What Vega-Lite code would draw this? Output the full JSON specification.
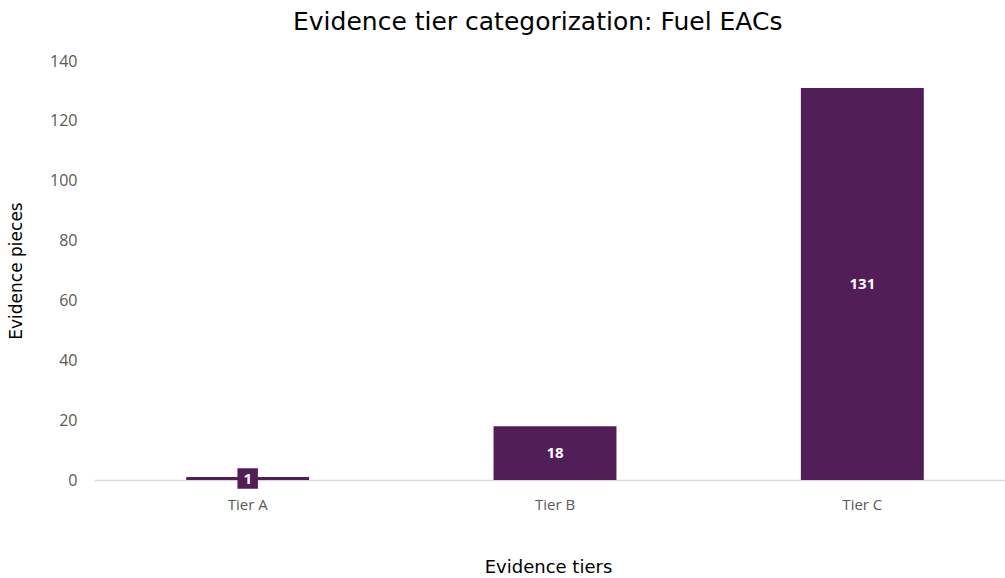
{
  "$schema": "https://vega.github.io/schema/vega-lite/v6.json",
  "autosize": {"type": "none"},
  "width": 922,
  "height": 419,
  "padding": {"left": 94, "top": 61, "right": 0, "bottom": 98},
  "background": "white",
  "config": {"view": {"stroke": null}, "font": "Open Sans"},
  "title": {
    "text": "Evidence tier categorization: Fuel EACs",
    "fontSize": 25,
    "font": "DejaVu Sans",
    "fontWeight": "normal",
    "color": "#000000",
    "anchor": "start",
    "frame": "group",
    "dx": 199,
    "offset": 18
  },
  "data": {
    "values": [
      {"tier": "Tier A", "pieces": 1},
      {"tier": "Tier B", "pieces": 18},
      {"tier": "Tier C", "pieces": 131}
    ]
  },
  "transform": [{"calculate": "datum.pieces / 2", "as": "mid"}],
  "encoding": {
    "x": {
      "field": "tier",
      "type": "nominal",
      "sort": null,
      "scale": {"paddingInner": 0, "paddingOuter": 0},
      "axis": {
        "title": "Evidence tiers",
        "titleFont": "DejaVu Sans",
        "titleFontSize": 18,
        "titleFontWeight": "normal",
        "titleColor": "#000000",
        "titlePadding": 46,
        "titleX": 454,
        "labelAngle": 0,
        "labelFont": "Open Sans",
        "labelFontSize": 15,
        "labelColor": "#595959",
        "labelPadding": 17,
        "ticks": false,
        "domainColor": "#d9d9d9",
        "domainWidth": 1.3
      }
    }
  },
  "layer": [
    {
      "mark": {"type": "bar", "color": "#521E58", "width": {"band": 0.4}},
      "encoding": {
        "y": {
          "field": "pieces",
          "type": "quantitative",
          "scale": {"domain": [0, 140]},
          "axis": {
            "title": "Evidence  pieces",
            "titleFont": "DejaVu Sans",
            "titleFontSize": 17,
            "titleFontWeight": "normal",
            "titleColor": "#000000",
            "titlePadding": 24,
            "values": [0, 20, 40, 60, 80, 100, 120, 140],
            "labelFont": "Open Sans",
            "labelFontSize": 16,
            "labelColor": "#595959",
            "labelPadding": 17,
            "grid": false,
            "ticks": false,
            "domain": false
          }
        }
      }
    },
    {
      "transform": [{"filter": "datum.pieces < 5"}],
      "mark": {"type": "square", "color": "#521E58", "opacity": 1, "size": 420},
      "encoding": {"y": {"field": "mid", "type": "quantitative"}}
    },
    {
      "mark": {"type": "text", "font": "Open Sans", "color": "white", "fontSize": 15, "fontWeight": "bold", "baseline": "middle"},
      "encoding": {
        "y": {"field": "mid", "type": "quantitative"},
        "text": {"field": "pieces", "type": "quantitative"}
      }
    }
  ]
}
